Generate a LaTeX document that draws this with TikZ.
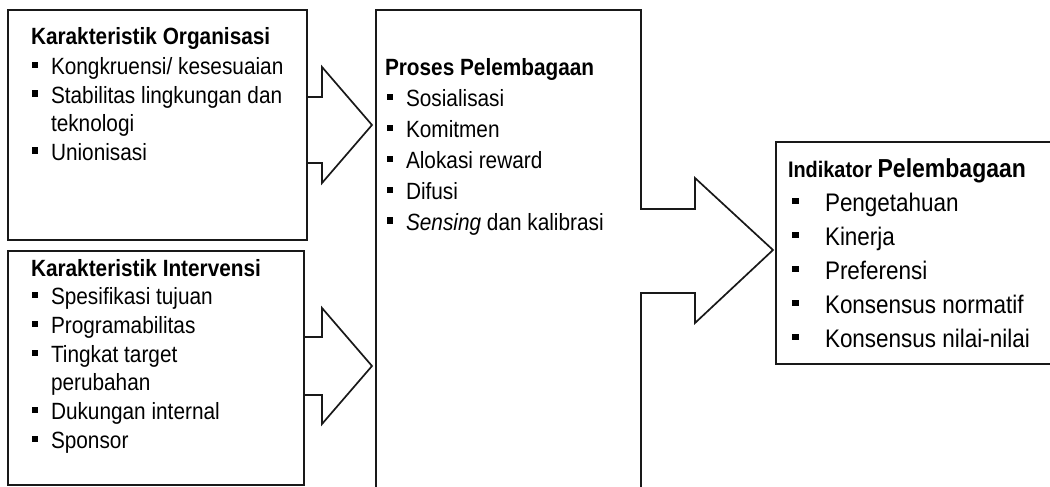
\documentclass[tikz,border=0pt]{standalone}
\usepackage{fontspec}
\newfontfamily\narrow[FakeStretch=0.885]{Liberation Sans}

% square list markers
\newcommand\bul{\makebox[19.3pt][l]{\rule[6.4pt]{6.2pt}{6.2pt}}}
\newcommand\bulwide{\makebox[33.3pt][l]{\rule[6.6pt]{6.8pt}{6.8pt}}}

\tikzset{
  frame/.style={line width=1.7pt, line join=miter, draw=black!90},
  txt/.style={anchor=base west, inner sep=0pt, outer sep=0pt,
    font=\narrow\fontsize{23.5}{28}\selectfont},
  big/.style={anchor=base west, inner sep=0pt, outer sep=0pt,
    font=\narrow\fontsize{25.4}{30}\selectfont},
}

\begin{document}
\begin{tikzpicture}[x=1pt,y=-1pt]
\useasboundingbox (0,0) rectangle (1050,487);

% ---- left boxes ----
\draw[frame] (8,10) rectangle (307,240);
\draw[frame] (8,251) rectangle (304,485);

% ---- block arrows into the process box ----
\draw[frame] (307,97) -- (322,97) -- (322,67) -- (372,125) -- (322,183) -- (322,163) -- (307,163);
\draw[frame] (304,337) -- (322,337) -- (322,308) -- (372,366) -- (322,424) -- (322,395) -- (304,395);

% ---- process box, open at the bottom, with its outgoing arrow ----
\draw[frame] (376,492) -- (376,10) -- (641,10) -- (641,209) -- (695,209) -- (695,178)
  -- (773,250) -- (695,323) -- (695,293) -- (641,293) -- (641,492);

% ---- indicator box, running off the right edge ----
\draw[frame] (1055,142) -- (776,142) -- (776,364) -- (1055,364);

% ---- Karakteristik Organisasi ----
\node[txt] (o0) at (31,45)    {\bfseries Karakteristik Organisasi};
\node[txt] (o1) at (31.7,74.5) {\bul Kongkruensi/ kesesuaian};
\node[txt] (o2) at (31.7,103)  {\bul Stabilitas lingkungan dan};
\node[txt] (o3) at (51,131.5)  {teknologi};
\node[txt] (o4) at (31.7,160)  {\bul Unionisasi};

% ---- Karakteristik Intervensi ----
\node[txt] (i0) at (31,276)    {\bfseries Karakteristik Intervensi};
\node[txt] (i1) at (31.7,304.7) {\bul Spesifikasi tujuan};
\node[txt] (i2) at (31.7,333.4) {\bul Programabilitas};
\node[txt] (i3) at (31.7,362.1) {\bul Tingkat target};
\node[txt] (i4) at (51,390.8)   {perubahan};
\node[txt] (i5) at (31.7,419.5) {\bul Dukungan internal};
\node[txt] (i6) at (31.7,448.2) {\bul Sponsor};

% ---- Proses Pelembagaan ----
\node[txt] (p0) at (385,76)     {\bfseries Proses Pelembagaan};
\node[txt] (p1) at (386.7,106.8) {\bul Sosialisasi};
\node[txt] (p2) at (386.7,137.6) {\bul Komitmen};
\node[txt] (p3) at (386.7,168.4) {\bul Alokasi reward};
\node[txt] (p4) at (386.7,199.2) {\bul Difusi};
\node[txt] (p5) at (386.7,230)   {\bul \textit{Sensing} dan kalibrasi};

% ---- Indikator Pelembagaan ----
\node[txt] (n0) at (788,177) {\bfseries\fontsize{22.5}{26}\selectfont Indikator
  {\fontsize{26}{30}\selectfont Pelembagaan}};
\node[big] (n1) at (791.7,211) {\bulwide Pengetahuan};
\node[big] (n2) at (791.7,245) {\bulwide Kinerja};
\node[big] (n3) at (791.7,279) {\bulwide Preferensi};
\node[big] (n4) at (791.7,313) {\bulwide Konsensus normatif};
\node[big] (n5) at (791.7,347) {\bulwide Konsensus nilai-nilai};
\end{tikzpicture}
\end{document}
